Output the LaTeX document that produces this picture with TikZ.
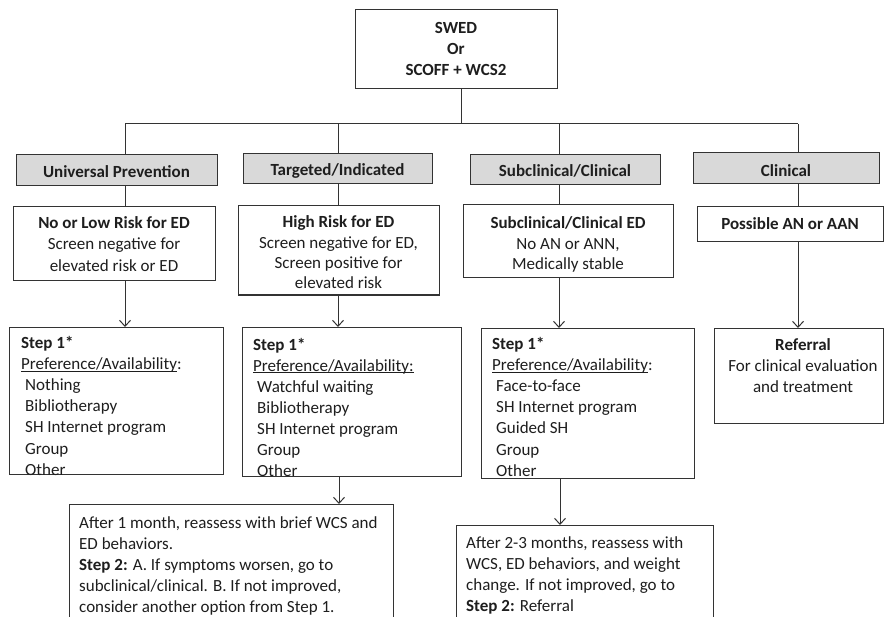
\documentclass[tikz,border=0pt]{standalone}
\usepackage{fontspec}
\setmainfont{Carlito}
\usetikzlibrary{arrows.meta}
\definecolor{linec}{HTML}{333333}
\definecolor{txtc}{HTML}{1E1E1E}
\definecolor{hdrgray}{HTML}{D9D9D9}
\newcommand\LLines[2][21.1]{\vtop{\baselineskip=#1pt\lineskiplimit=-100pt\lineskip=0pt\halign{##\hfil\cr#2\crcr}}}
\newcommand\CLines[2][21.1]{\vtop{\baselineskip=#1pt\lineskiplimit=-100pt\lineskip=0pt\halign{\hfil##\hfil\cr#2\crcr}}}
\newcommand\myul[1]{\setbox0\hbox{#1}\rlap{\rule[-2pt]{\wd0}{1pt}}\box0}
\newcommand\ind{\kern4pt}
\begin{document}
\begin{tikzpicture}[x=1pt,y=-1pt,
  font=\fontsize{17}{21}\selectfont,
  box/.style={draw=linec, line width=1pt, inner sep=0pt, outer sep=0pt, anchor=north west},
  hdr/.style={box, fill=hdrgray},
  ctxt/.style={inner sep=0pt, anchor=base, text=txtc},
  ltxt/.style={inner sep=0pt, anchor=base west, text=txtc},
  conn/.style={draw=linec, line width=1pt},
  arr/.style={conn, -{Straight Barb[length=6pt,width=11pt]}}]
\useasboundingbox (0,0) rectangle (885,617);
\clip (0,0) rectangle (885,617);
\fill[white] (0,0) rectangle (885,617);

% boxes
\node[box, minimum width=202pt, minimum height=79pt] (top) at (355,10) {};
\node[hdr, minimum width=201pt, minimum height=31pt] (h1) at (16,155) {};
\node[hdr, minimum width=189pt, minimum height=30pt] (h2) at (243,154) {};
\node[hdr, minimum width=190pt, minimum height=30pt] (h3) at (470,155) {};
\node[hdr, minimum width=186pt, minimum height=31pt] (h4) at (693,153) {};
\node[box, minimum width=202pt, minimum height=74pt] (s1) at (13,207) {};
\node[box, minimum width=201pt, minimum height=89pt] (s2) at (238,206) {};
\node[box, minimum width=210pt, minimum height=73pt] (s3) at (463,205) {};
\node[box, minimum width=186pt, minimum height=35pt] (s4) at (697,207) {};
\node[box, minimum width=214pt, minimum height=147pt] (p1) at (9,327) {};
\node[box, minimum width=219pt, minimum height=149pt] (p2) at (242,327) {};
\node[box, minimum width=213pt, minimum height=150pt] (p3) at (481,328) {};
\node[box, minimum width=169pt, minimum height=95pt] (p4) at (714,328) {};
\node[box, minimum width=324pt, minimum height=140pt] (b1) at (69,504) {};
\node[box, minimum width=257pt, minimum height=120pt] (b2) at (456,525) {};

% texts
\node[ctxt] (toptxt) at (456,33.5) {\CLines[21]{\textbf{SWED}\cr\textbf{Or}\cr\textbf{SCOFF + WCS2}}};
\node[ctxt] (h1t) at (116.5,178) {\textbf{Universal Prevention}};
\node[ctxt] (h2t) at (337.5,176) {\textbf{Targeted/Indicated}};
\node[ctxt] (h3t) at (565,177) {\textbf{Subclinical/Clinical}};
\node[ctxt] (h4t) at (786,176.5) {\textbf{Clinical}};
\node[ctxt] (s1t) at (114,228.5) {\CLines[21.5]{\textbf{No or Low Risk for ED}\cr Screen negative for\cr elevated risk or ED}};
\node[ctxt] (s2t) at (338.5,228) {\CLines[20.3]{\textbf{High Risk for ED}\cr Screen negative for ED,\cr Screen positive for\cr elevated risk}};
\node[ctxt] (s3t) at (568,228.5) {\CLines[20.7]{\textbf{Subclinical/Clinical ED}\cr No AN or ANN,\cr Medically stable}};
\node[ctxt] (s4t) at (790,229.5) {\textbf{Possible AN or AAN}};
\node[ltxt] (p1t) at (21,348.5) {\LLines{\textbf{Step 1*}\cr\myul{Preference/Availability}:\cr\ind Nothing\cr\ind Bibliotherapy\cr\ind SH Internet program\cr\ind Group\cr\ind Other}};
\node[ltxt] (p2t) at (253,350) {\LLines{\textbf{Step 1*}\cr\myul{Preference/Availability:}\cr\ind Watchful waiting\cr\ind Bibliotherapy\cr\ind SH Internet program\cr\ind Group\cr\ind Other}};
\node[ltxt] (p3t) at (492,349.5) {\LLines{\textbf{Step 1*}\cr\myul{Preference/Availability}:\cr\ind Face-to-face\cr\ind SH Internet program\cr\ind Guided SH\cr\ind Group\cr\ind Other}};
\node[ctxt] (p4t) at (803,350.5) {\CLines[21]{\textbf{Referral}\cr For clinical evaluation\cr and treatment}};
\node[ltxt] (b1t) at (79,528.5) {\LLines[21]{After 1 month, reassess with brief WCS and\cr ED behaviors.\cr\textbf{Step 2:} A. If symptoms worsen, go to\cr subclinical/clinical. B. If not improved,\cr consider another option from Step 1.}};
\node[ltxt] (b2t) at (466,548) {\LLines[21]{After 2-3 months, reassess with\cr WCS, ED behaviors, and weight\cr change. If not improved, go to\cr\textbf{Step 2:} Referral}};

% connectors
\coordinate (tx) at (461,0);
\coordinate (x1) at (125,0);
\coordinate (x2) at (338,0);
\coordinate (x3) at (559,0);
\coordinate (x4) at (798,0);
\coordinate (x2b) at (339,0);
\coordinate (x3b) at (560,0);
\coordinate (bus) at (0,124);
\draw[conn] (top.south -| tx) -- (bus -| tx);
\draw[conn] (bus -| x1) -- (bus -| x4);
\foreach \c/\h in {x1/h1,x2/h2,x3/h3,x4/h4}
  \draw[conn] (bus -| \c) -- (\h.north -| \c);
\foreach \c/\h/\s in {x1/h1/s1,x2/h2/s2,x3/h3/s3,x4/h4/s4}
  \draw[conn] (\h.south -| \c) -- (\s.north -| \c);
\foreach \c/\s/\p in {x1/s1/p1,x2/s2/p2,x3/s3/p3,x4/s4/p4}
  \draw[arr] (\s.south -| \c) -- (\p.north -| \c);
\draw[arr] (p2.south -| x2b) -- (b1.north -| x2b);
\draw[arr] (p3.south -| x3b) -- (b2.north -| x3b);
\end{tikzpicture}
\end{document}
